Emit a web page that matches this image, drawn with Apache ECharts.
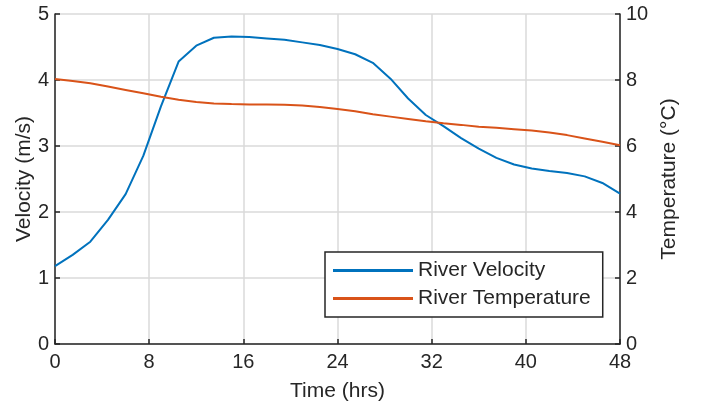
<!DOCTYPE html>
<html>
<head>
<meta charset="utf-8">
<script src="https://cdn.jsdelivr.net/npm/echarts@6/dist/echarts.min.js"></script>
<style>
html,body{margin:0;padding:0;background:#fff;}
#chart{width:706px;height:407px;}
</style>
</head>
<body>
<div id="chart"></div>
<script>
var timeHrs = [0, 1.5, 3, 4.5, 6, 7.5, 9, 10.5, 12, 13.5, 15, 16.5, 18, 19.5, 21, 22.5, 24,
    25.5, 27, 28.5, 30, 31.5, 33, 34.5, 36, 37.5, 39, 40.5, 42, 43.5, 45, 46.5, 48];
var velocity = [1.18, 1.35, 1.55, 1.88, 2.27, 2.85, 3.60, 4.28, 4.52, 4.64, 4.66, 4.65, 4.63,
    4.61, 4.57, 4.53, 4.47, 4.39, 4.26, 4.02, 3.72, 3.47, 3.30, 3.12, 2.96, 2.82, 2.72,
    2.66, 2.62, 2.59, 2.54, 2.44, 2.28];
var temperature = [8.03, 7.97, 7.90, 7.80, 7.70, 7.60, 7.49, 7.40, 7.33, 7.29, 7.27, 7.26,
    7.26, 7.25, 7.23, 7.18, 7.12, 7.05, 6.96, 6.89, 6.82, 6.75, 6.69, 6.64, 6.58, 6.55,
    6.51, 6.47, 6.41, 6.33, 6.23, 6.13, 6.02];
var seriesNames = ['River Velocity', 'River Temperature'];

function pairs(ys) {
    var out = [];
    for (var i = 0; i < timeHrs.length; i++) out.push([timeHrs[i], ys[i]]);
    return out;
}

var axisColor = '#262626';
var gridColor = '#dadada';
var font = 'Liberation Sans, Arial, sans-serif';

var myChart = echarts.init(document.getElementById('chart'));
var option = {
    animation: false,
    textStyle: {fontFamily: font},
    grid: {left: 55, top: 14, right: 86, bottom: 62},
    legend: {
        data: seriesNames,
        orient: 'vertical',
        left: 325,
        top: 252,
        padding: [8, 12, 8, 8],
        itemGap: 7,
        itemWidth: 80,
        itemHeight: 3,
        itemTextGap: 9,
        icon: 'rect',
        backgroundColor: '#fff',
        borderColor: axisColor,
        borderWidth: 1.5,
        borderRadius: 0,
        textStyle: {fontSize: 21, color: axisColor, lineHeight: 21, fontFamily: font}
    },
    xAxis: {
        type: 'value',
        min: 0, max: 48, interval: 8,
        name: 'Time (hrs)',
        nameLocation: 'middle',
        nameGap: 37,
        nameTextStyle: {fontSize: 21, color: axisColor},
        axisLine: {lineStyle: {color: axisColor, width: 1.5}},
        axisTick: {inside: true, length: 5, lineStyle: {color: axisColor, width: 1.5}},
        axisLabel: {fontSize: 20, color: axisColor, margin: 8},
        splitLine: {show: true, lineStyle: {color: gridColor, width: 1.5}}
    },
    yAxis: [{
        type: 'value',
        min: 0, max: 5, interval: 1,
        name: 'Velocity (m/s)',
        nameLocation: 'middle',
        nameGap: 20,
        nameMoveOverlap: false,
        nameTextStyle: {fontSize: 21, color: axisColor},
        axisLine: {show: true, lineStyle: {color: axisColor, width: 1.5}},
        axisTick: {show: true, inside: true, length: 5, lineStyle: {color: axisColor, width: 1.5}},
        axisLabel: {fontSize: 20, color: axisColor, margin: 6},
        splitLine: {show: true, lineStyle: {color: gridColor, width: 1.5}}
    }, {
        type: 'value',
        position: 'right',
        min: 0, max: 10, interval: 2,
        name: 'Temperature (°C)',
        nameLocation: 'middle',
        nameGap: 39,
        nameTextStyle: {fontSize: 21, color: axisColor},
        axisLine: {show: true, lineStyle: {color: axisColor, width: 1.5}},
        axisTick: {show: true, inside: true, length: 5, lineStyle: {color: axisColor, width: 1.5}},
        axisLabel: {fontSize: 20, color: axisColor, margin: 6},
        splitLine: {show: false}
    }],
    series: [{
        name: seriesNames[0],
        type: 'line',
        yAxisIndex: 0,
        showSymbol: false,
        color: '#0072BD',
        lineStyle: {width: 2},
        data: pairs(velocity)
    }, {
        name: seriesNames[1],
        type: 'line',
        yAxisIndex: 1,
        showSymbol: false,
        color: '#D95319',
        lineStyle: {width: 2},
        data: pairs(temperature)
    }]
};
myChart.setOption(option);
</script>
</body>
</html>
